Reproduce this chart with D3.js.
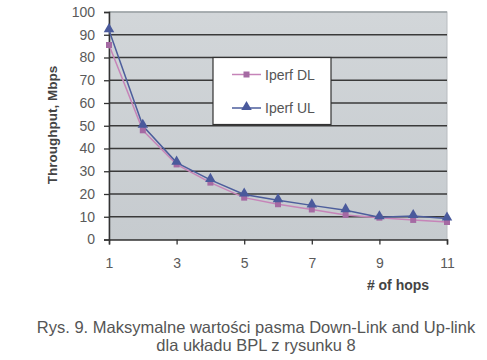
<!DOCTYPE html>
<html><head><meta charset="utf-8">
<script src="https://cdn.jsdelivr.net/npm/d3@7"></script>
<style>body{margin:0;background:#fff}svg{display:block}</style>
</head><body>
<svg id="c" width="487" height="360"></svg>
<script>
const hops = [1,2,3,4,5,6,7,8,9,10,11];
const xTicks = [1,3,5,7,9,11];
const yTicks = [0,10,20,30,40,50,60,70,80,90,100];
const iperfDL = [85.5,48,33,25,18.4,15.5,13.2,10.8,9.6,8.6,7.7];
const iperfUL = [92,50,33.8,26.2,19.8,17.3,15,12.9,9.8,10.3,9.2];
const seriesNames = ["Iperf DL","Iperf UL"];

const svg = d3.select("#c");
const font = "Liberation Sans, Arial, sans-serif";
const x = d3.scaleLinear().domain([1,11]).range([109,447]);
const y = d3.scaleLinear().domain([0,100]).range([239.5,12]);

// plot background
const defs = svg.append("defs");
const g1 = defs.append("linearGradient").attr("id","bg").attr("x1",0).attr("y1",0).attr("x2",0).attr("y2",1);
g1.append("stop").attr("offset","0%").attr("stop-color","#d2d6d9");
g1.append("stop").attr("offset","100%").attr("stop-color","#c6cbcf");
svg.append("rect").attr("x",x(1)).attr("y",y(100)).attr("width",x(11)-x(1)).attr("height",y(0)-y(100))
  .attr("fill","url(#bg)").attr("stroke","#b8bcc0");

// gridlines
svg.append("g").selectAll("line").data(yTicks.filter(d=>d>0)).join("line")
  .attr("x1",x(1)).attr("x2",x(11)).attr("y1",d=>y(d)).attr("y2",d=>y(d))
  .attr("stroke",d=>d===100?"#9aa0a4":"#3a3a3a").attr("stroke-width",1.4);

// axes
const yAxis = svg.append("g").attr("transform",`translate(${x(1)},0)`)
  .call(d3.axisLeft(y).tickValues(yTicks).tickSize(5).tickPadding(9));
const xAxis = svg.append("g").attr("transform",`translate(0,${y(0)})`)
  .call(d3.axisBottom(x).tickValues(xTicks).tickSize(5).tickPadding(14));
[yAxis,xAxis].forEach(a=>{
  a.select(".domain").attr("stroke","#333").attr("stroke-width",1.5);
  a.selectAll(".tick line").attr("stroke","#333").attr("stroke-width",1.3);
  a.selectAll("text").attr("fill","#5a5a5a").attr("font-size",14).attr("font-family",font);
});

// lines
const line = d3.line().x((d,i)=>x(hops[i])).y(d=>y(d));
svg.append("path").datum(iperfDL).attr("d",line).attr("fill","none").attr("stroke","#c684b8").attr("stroke-width",1.5);
svg.append("path").datum(iperfUL).attr("d",line).attr("fill","none").attr("stroke","#4d5e9c").attr("stroke-width",1.5);

const sq = d3.symbol().type(d3.symbolSquare).size(36);
const tri = d3.symbol().type(d3.symbolTriangle).size(48);
svg.append("g").selectAll("path").data(iperfDL).join("path")
  .attr("d",sq).attr("transform",(d,i)=>`translate(${x(hops[i])},${y(d)})`).attr("fill","#a56aa3");
svg.append("g").selectAll("path").data(iperfUL).join("path")
  .attr("d",tri).attr("transform",(d,i)=>`translate(${x(hops[i])},${y(d)-1})`).attr("fill","#4a5a9c");

// legend
const lg = svg.append("g");
lg.append("rect").attr("x",213).attr("y",57.5).attr("width",118).attr("height",67).attr("fill","#fff").attr("stroke","#333").attr("stroke-width",1.2);
const ly = [74.5,108];
const cols = [["#c684b8","#a56aa3",sq],["#4d5e9c","#4a5a9c",tri]];
seriesNames.forEach((n,i)=>{
  lg.append("line").attr("x1",232).attr("x2",261).attr("y1",ly[i]).attr("y2",ly[i]).attr("stroke",cols[i][0]).attr("stroke-width",1.5);
  lg.append("path").attr("d",cols[i][2]).attr("transform",`translate(246.5,${ly[i]-(i?1:0)})`).attr("fill",cols[i][1]);
  lg.append("text").attr("x",265).attr("y",ly[i]+5).text(n).attr("fill","#555").attr("font-size",14).attr("font-family",font);
});

// axis titles
svg.append("text").attr("transform","translate(57,125) rotate(-90)").attr("text-anchor","middle")
  .text("Throughput, Mbps").attr("font-weight","bold").attr("fill","#444").attr("font-size",13.5).attr("font-family",font);
svg.append("text").attr("x",398).attr("y",290).attr("text-anchor","middle")
  .text("# of hops").attr("font-weight","bold").attr("fill","#444").attr("font-size",14).attr("font-family",font);

// caption
svg.append("text").attr("x",256).attr("y",333).attr("text-anchor","middle")
  .text("Rys. 9. Maksymalne wartości pasma Down-Link and Up-link").attr("fill","#555").attr("font-size",16.5).attr("font-family",font);
svg.append("text").attr("x",256).attr("y",351).attr("text-anchor","middle")
  .text("dla układu BPL z rysunku 8").attr("fill","#555").attr("font-size",16.5).attr("font-family",font);
</script>
</body></html>
